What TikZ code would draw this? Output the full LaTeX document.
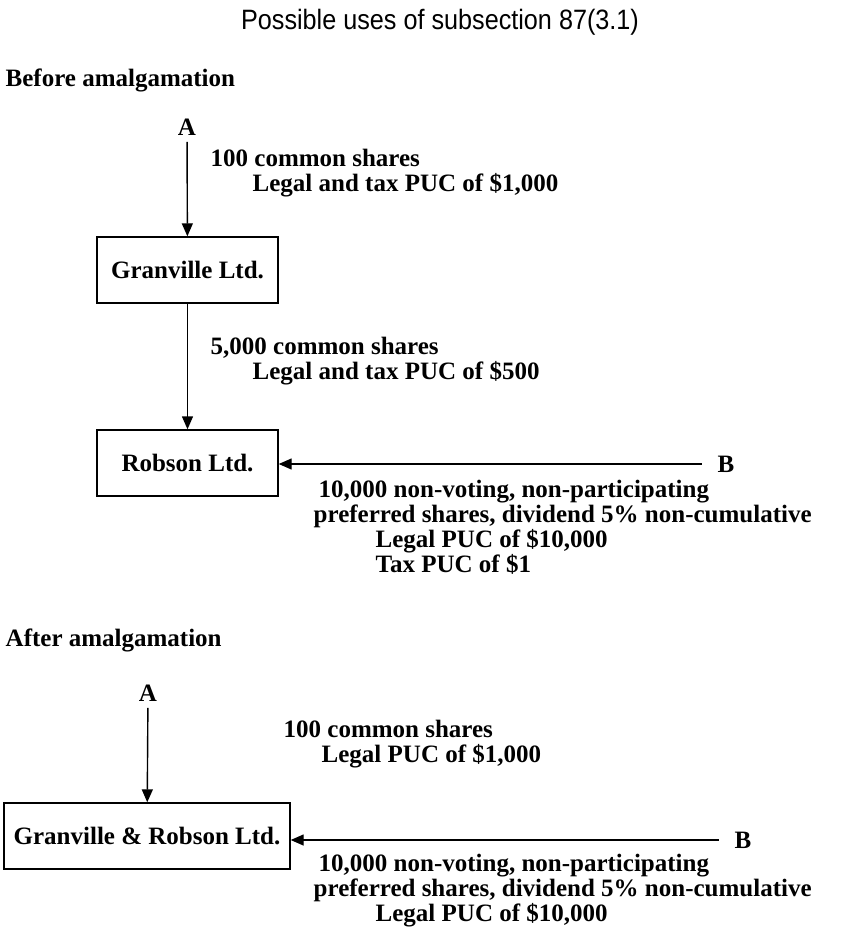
\documentclass[tikz,border=0pt]{standalone}
\usepackage{fontspec}
\setmainfont{Liberation Serif}
\newfontfamily\titlefont[FakeStretch=0.9]{Liberation Sans}
\usetikzlibrary{arrows.meta,positioning}
\begin{document}
\begin{tikzpicture}[x=1pt, y=-1pt, line width=1.4pt,
    every node/.style={font=\fontsize{25}{25}\selectfont\bfseries},
    company/.style={draw, minimum width=181pt, minimum height=66pt, inner sep=0pt},
    holder/.style={inner ysep=6pt, inner xsep=15pt},
    shares/.style={anchor=west, align=left, inner sep=0pt},
    flow/.style={-{Triangle[width=11pt,length=13pt]}}]
    \useasboundingbox (0,0) rectangle (842,942);

    \node[font=\fontsize{28}{28}\selectfont\titlefont] (title) at (440,22) {Possible uses of subsection 87(3.1)};

    % before amalgamation
    \node[anchor=west, inner sep=0pt] (before) at (5,80) {Before amalgamation};
    \node[holder] (A1) at (187,127) {A};
    \node[company] (granville) at (187.5,270) {Granville Ltd.};
    \node[company] (robson) at (187.5,463) {Robson Ltd.};
    \node[holder] (B1) at (726,464) {B};

    \draw[flow] (A1) -- (granville);
    \draw[flow] (granville) -- (robson);
    \draw[flow] (B1.west) -- (robson.east |- B1.west);

    \node[shares] (commonA1) at (210,173) {100 common shares\\\hspace*{42pt}Legal and tax PUC of \$1,000};
    \node[shares] (commonG) at (210,361) {5,000 common shares\\\hspace*{42pt}Legal and tax PUC of \$500};
    \node[shares] (prefB1) at (313,527) {\hspace*{5pt}10,000 non-voting, non-participating\\preferred shares, dividend 5\% non-cumulative\\\hspace*{62pt}Legal PUC of \$10,000\\\hspace*{62pt}Tax PUC of \$1};

    % after amalgamation
    \node[anchor=west, inner sep=0pt] (after) at (5,640) {After amalgamation};
    \node[holder] (A2) at (148,693) {A};
    \node[company, minimum width=286pt] (amalco) at (147,836) {Granville \& Robson Ltd.};
    \node[holder] (B2) at (743,840) {B};

    \draw[flow] (A2) -- (amalco);
    \draw[flow] (B2.west) -- (amalco.east |- B2.west);

    \node[shares] (commonA2) at (283,744) {100 common shares\\\hspace*{38pt}Legal PUC of \$1,000};
    \node[shares] (prefB2) at (313,891) {\hspace*{5pt}10,000 non-voting, non-participating\\preferred shares, dividend 5\% non-cumulative\\\hspace*{62pt}Legal PUC of \$10,000};
\end{tikzpicture}
\end{document}
